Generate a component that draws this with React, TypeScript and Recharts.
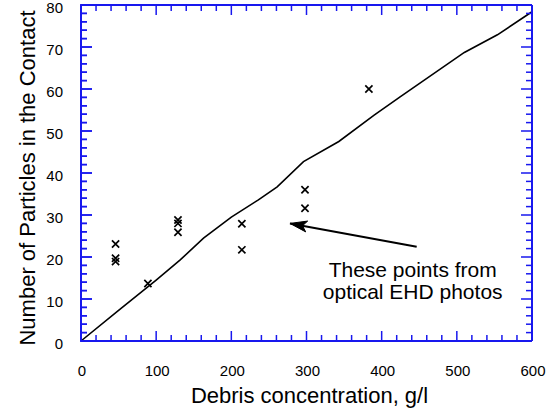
import React from 'react';
import { ComposedChart, XAxis, YAxis, Line, Scatter, Label } from 'recharts';

// Model curve
const curveX = [0, 50, 100, 132, 163, 200, 236, 261, 296, 343, 390, 425, 510, 554, 600];
const curveY = [0, 7.3, 14.5, 19.3, 24.5, 29.5, 33.6, 36.7, 42.7, 47.5, 53.8, 58.2, 68.7, 72.9, 78.4];

// Measured points (optical EHD photos)
const pointX = [46, 46, 46, 89, 129, 129, 129, 214, 214, 298, 298, 383];
const pointY = [23.1, 19.7, 18.9, 13.7, 28.8, 28.0, 25.9, 27.9, 21.7, 36.0, 31.6, 60.0];

// Axis ticks
const xMajorTicks = [0, 100, 200, 300, 400, 500, 600];
const yMajorTicks = [0, 10, 20, 30, 40, 50, 60, 70, 80];
const xMinorStep = 20;
const yMinorStep = 2;

// Annotation arrow (data coordinates): tail then tip
const arrowX = [446.6, 278];
const arrowY = [22.45, 28.0];
const noteLines = ['These points from', 'optical EHD photos'];

const xTicks: number[] = [];
for (let v = 0; v <= 600; v += xMinorStep) xTicks.push(v);
const yTicks: number[] = [];
for (let v = 0; v <= 80; v += yMinorStep) yTicks.push(v);

const curve = curveX.map((x, i) => ({ x, y: curveY[i] }));
const points = pointX.map((x, i) => ({ x, y: pointY[i] }));
const arrow = arrowX.map((x, i) => ({ x, y: arrowY[i] }));
const leftTickMarks = yTicks.map((v) => ({ x: 0, y: v, major: yMajorTicks.includes(v) }));

const BLUE = '#1818ee';
const FONT = '"Liberation Sans", Arial, Helvetica, sans-serif';

const isXMajor = (v: number) => xMajorTicks.includes(v);
const isYMajor = (v: number) => yMajorTicks.includes(v);

function BottomTick(props: any) {
  const { x, y, payload } = props;
  const major = isXMajor(payload.value);
  return (
    <g>
      <path d={`M${x},${y}V${y - (major ? 10 : 6)}`} stroke={BLUE} strokeWidth={1.5} fill="none" />
      {major && (
        <text x={x + 1} y={y + 35} textAnchor="middle" fontSize={15} fontFamily={FONT} fill="#000">
          {payload.value}
        </text>
      )}
    </g>
  );
}

function TopTick(props: any) {
  const { x, y, payload } = props;
  const major = isXMajor(payload.value);
  return <path d={`M${x},${y}V${y + (major ? 10 : 6)}`} stroke={BLUE} strokeWidth={1.5} fill="none" />;
}

function LeftTick(props: any) {
  const { x, y, payload } = props;
  const major = isYMajor(payload.value);
  return (
    <g>
      <path d={`M${x - 1},${y}H${x + (major ? 11 : 6)}`} stroke={BLUE} strokeWidth={1.5} fill="none" />
      {major && (
        <text x={x - 18} y={y + 8} textAnchor="end" fontSize={15} fontFamily={FONT} fill="#000">
          {payload.value}
        </text>
      )}
    </g>
  );
}

function RightTick(props: any) {
  const { x, y, payload } = props;
  const major = isYMajor(payload.value);
  return <path d={`M${x},${y}H${x - (major ? 11 : 6)}`} stroke={BLUE} strokeWidth={1.5} fill="none" />;
}

function LeftTickMark(props: any) {
  const { cx, cy, payload } = props;
  const len = payload && payload.major ? 11 : 6;
  return <path d={`M${cx - 1},${cy}H${cx + len}`} stroke={BLUE} strokeWidth={1.5} fill="none" />;
}

function Cross(props: any) {
  const { cx, cy } = props;
  const h = 3.6;
  return (
    <path
      d={`M${cx - h},${cy - h}L${cx + h},${cy + h}M${cx - h},${cy + h}L${cx + h},${cy - h}`}
      stroke="#000"
      strokeWidth={1.7}
      fill="none"
    />
  );
}

function ArrowDot(props: any) {
  const { cx, cy, index, points: pts } = props;
  if (index === 0) {
    return (
      <g key="note">
        {noteLines.map((t, i) => (
          <text
            key={i}
            x={cx - 4}
            y={cy + 30 + i * 22.6}
            textAnchor="middle"
            fontSize={21}
            fontFamily={FONT}
            fill="#000"
          >
            {t}
          </text>
        ))}
      </g>
    );
  }
  const tail = pts && pts[0] ? pts[0] : { x: cx + 100, y: cy + 20 };
  const dx = cx - tail.x;
  const dy = cy - tail.y;
  const len = Math.sqrt(dx * dx + dy * dy) || 1;
  const ux = dx / len;
  const uy = dy / len;
  const hl = 17;
  const hw = 5.5;
  const bx = cx - ux * hl;
  const by = cy - uy * hl;
  const nx = cx - ux * hl * 0.75;
  const ny = cy - uy * hl * 0.75;
  return (
    <path
      key="head"
      d={`M${cx},${cy}L${bx - uy * hw},${by + ux * hw}L${nx},${ny}L${bx + uy * hw},${by - ux * hw}Z`}
      fill="#000"
      stroke="#000"
      strokeWidth={1}
    />
  );
}

export default function App() {
  return (
    <div style={{ position: 'absolute', left: 0, top: 0, width: 546, height: 412, background: '#fff' }}>
      <ComposedChart width={546} height={412} margin={{ top: 4, right: 13, bottom: 0, left: 0 }}>
        <XAxis
          xAxisId="bottom"
          dataKey="x"
          type="number"
          domain={[0, 600]}
          ticks={xTicks}
          interval={0}
          height={71}
          tickSize={0}
          tickMargin={0}
          tickLine={false}
          axisLine={{ stroke: BLUE, strokeWidth: 2 }}
          tick={<BottomTick />}
        >
          <Label
            content={(p: any) => {
              const vb = p.viewBox;
              return (
                <text
                  x={vb.x + vb.width / 2 + 3}
                  y={vb.y + 62}
                  textAnchor="middle"
                  fontSize={22}
                  fontFamily={FONT}
                  fill="#000"
                >
                  Debris concentration, g/l
                </text>
              );
            }}
          />
        </XAxis>
        <XAxis
          xAxisId="top"
          orientation="top"
          dataKey="x"
          type="number"
          domain={[0, 600]}
          ticks={xTicks}
          interval={0}
          height={1}
          tickSize={0}
          tickMargin={0}
          tickLine={false}
          axisLine={{ stroke: BLUE, strokeWidth: 2 }}
          tick={<TopTick />}
        />
        <YAxis
          yAxisId="left"
          dataKey="y"
          type="number"
          domain={[0, 80]}
          ticks={yTicks}
          interval={0}
          width={81}
          tickSize={0}
          tickMargin={0}
          tickLine={false}
          axisLine={{ stroke: BLUE, strokeWidth: 2 }}
          tick={<LeftTick />}
        >
          <Label
            content={() => (
              <text
                x={35}
                y={178}
                transform="rotate(-90, 35, 178)"
                textAnchor="middle"
                fontSize={22}
                fontFamily={FONT}
                fill="#000"
              >
                Number of Particles in the Contact
              </text>
            )}
          />
        </YAxis>
        <YAxis
          yAxisId="right"
          orientation="right"
          dataKey="y"
          type="number"
          domain={[0, 80]}
          ticks={yTicks}
          interval={0}
          width={1}
          tickSize={0}
          tickMargin={0}
          tickLine={false}
          axisLine={{ stroke: BLUE, strokeWidth: 2 }}
          tick={<RightTick />}
        />
        <Line
          xAxisId="top"
          yAxisId="right"
          data={curve}
          dataKey="y"
          type="linear"
          stroke="none"
          dot={false}
          activeDot={false}
          isAnimationActive={false}
        />
        <Line
          xAxisId="bottom"
          yAxisId="left"
          data={curve}
          dataKey="y"
          type="linear"
          stroke="#000"
          strokeWidth={1.6}
          dot={false}
          activeDot={false}
          isAnimationActive={false}
        />
        <Scatter
          xAxisId="bottom"
          yAxisId="left"
          data={points}
          dataKey="y"
          shape={<Cross />}
          isAnimationActive={false}
        />
        <Line
          xAxisId="bottom"
          yAxisId="left"
          data={arrow}
          dataKey="y"
          type="linear"
          stroke="#000"
          strokeWidth={2}
          dot={(p: any) => <ArrowDot {...p} />}
          activeDot={false}
          isAnimationActive={false}
        />
        <Scatter
          xAxisId="bottom"
          yAxisId="left"
          data={leftTickMarks}
          dataKey="y"
          shape={<LeftTickMark />}
          isAnimationActive={false}
        />
      </ComposedChart>
    </div>
  );
}
